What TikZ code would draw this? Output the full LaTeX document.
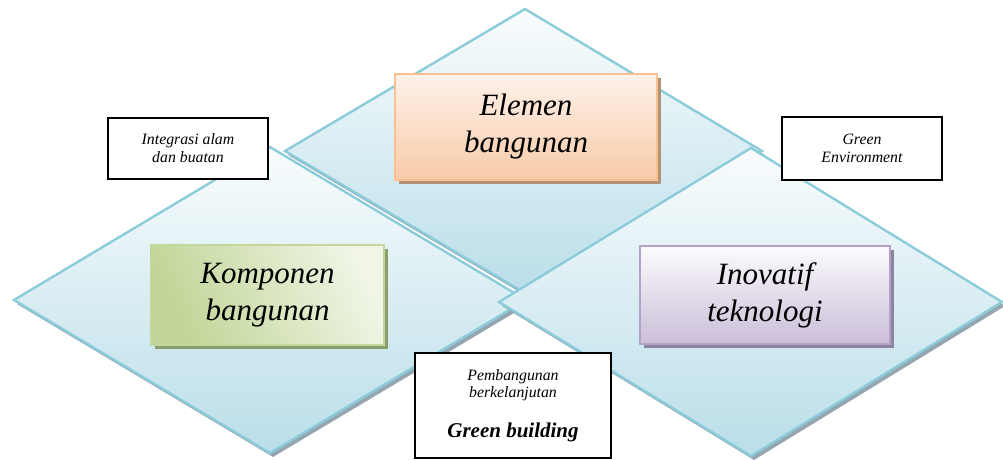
\documentclass[tikz,border=0pt]{standalone}
\usepackage{fontspec}
\setmainfont{Liberation Serif}
\definecolor{dedge}{RGB}{140,204,218}
\definecolor{dtop}{RGB}{249,252,253}
\definecolor{dbot}{RGB}{186,222,233}
\definecolor{dshadow}{RGB}{150,166,176}
\definecolor{oborder}{RGB}{250,192,144}
\definecolor{otop}{RGB}{254,242,234}
\definecolor{obot}{RGB}{248,202,168}
\definecolor{oshadow}{RGB}{176,146,118}
\definecolor{gborder}{RGB}{195,214,155}
\definecolor{gdark}{RGB}{192,213,150}
\definecolor{glight}{RGB}{240,245,230}
\definecolor{gshadow}{RGB}{140,158,108}
\definecolor{pborder}{RGB}{179,162,199}
\definecolor{ptop}{RGB}{252,251,253}
\definecolor{pbot}{RGB}{202,190,217}
\definecolor{pshadow}{RGB}{140,132,160}
\tikzset{
  diam/.style={draw=dedge, line width=2.4pt, line join=miter, top color=dtop, bottom color=dbot,
    preaction={fill=dshadow, transform canvas={xshift=3pt,yshift=-4pt}}},
  bigbox/.style={draw=#1border, line width=2pt, align=center, inner sep=0pt,
    font=\fontsize{31}{37}\selectfont\itshape,
    preaction={fill=#1shadow, transform canvas={xshift=4pt,yshift=-4pt}}},
  smallbox/.style={draw=black, line width=1.8pt, fill=white, align=center, inner sep=0pt,
    font=\fontsize{15.8}{18}\selectfont\itshape},
  txt/.style={anchor=base, inner sep=0pt}
}
\begin{document}
\begin{tikzpicture}[x=1pt,y=-1pt]
\useasboundingbox (0,0) rectangle (1003,460);
% top diamond
\draw[diam] (525,9) -- (762,151) -- (525,293) -- (285,151) -- cycle;
% left diamond
\draw[diam] (270,147) -- (526,300) -- (270,453) -- (14,300) -- cycle;
% right diamond
\draw[diam] (751,148) -- (1002,302) -- (751,456) -- (499,302) -- cycle;
% coloured boxes
\node[bigbox=o, top color=otop, bottom color=obot, minimum width=262pt, minimum height=106pt]
  (elemen) at (526,127) {Elemen\\bangunan};
\node[bigbox=g, left color=gdark, right color=glight, shading angle=115, minimum width=233pt, minimum height=100pt]
  (komponen) at (267.5,295) {Komponen\\bangunan};
\node[bigbox=p, top color=ptop, bottom color=pbot, minimum width=250pt, minimum height=98pt]
  (inovatif) at (765,295) {Inovatif\\teknologi};
% small boxes
\node[smallbox, minimum width=160pt, minimum height=61pt] (integrasi) at (188,148.5) {Integrasi alam\\dan buatan};
\node[smallbox, minimum width=160pt, minimum height=63pt] (green) at (862,148.5) {Green\\Environment};
\node[smallbox, minimum width=196pt, minimum height=105pt] (pemb) at (513,405.5) {};
\node[txt, font=\fontsize{15.8}{18}\selectfont\itshape] (pemb1) at (513,380) {Pembangunan};
\node[txt, font=\fontsize{15.8}{18}\selectfont\itshape] (pemb2) at (513,397) {berkelanjutan};
\node[txt, font=\fontsize{21}{24}\selectfont\bfseries\itshape] (gb) at (513,437) {Green building};
\end{tikzpicture}
\end{document}
